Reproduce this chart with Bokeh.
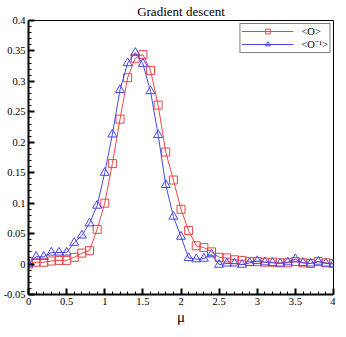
from bokeh.plotting import figure
from bokeh.models import Range1d, FixedTicker
from bokeh.embed import file_html
from bokeh.resources import INLINE

mu = [0.0, 0.1, 0.2, 0.3, 0.4, 0.5, 0.6, 0.7, 0.8, 0.9,
      1.0, 1.1, 1.2, 1.3, 1.4, 1.5, 1.6, 1.7, 1.8, 1.9,
      2.0, 2.1, 2.2, 2.3, 2.4, 2.5, 2.6, 2.7, 2.8, 2.9,
      3.0, 3.1, 3.2, 3.3, 3.4, 3.5, 3.6, 3.7, 3.8, 3.9, 4.0]

o_mean = [0.000, 0.003, 0.003, 0.005, 0.006, 0.006, 0.011, 0.018, 0.022, 0.057,
          0.100, 0.165, 0.238, 0.306, 0.338, 0.344, 0.318, 0.261, 0.184, 0.138,
          0.090, 0.055, 0.030, 0.027, 0.020, 0.011, 0.010, 0.007, 0.006, 0.004,
          0.004, 0.003, 0.003, 0.002, 0.002, 0.004, 0.002, 0.001, 0.004, 0.002, 0.001]

o_inv = [0.000, 0.012, 0.012, 0.019, 0.019, 0.019, 0.035, 0.047, 0.067, 0.096,
         0.150, 0.213, 0.286, 0.330, 0.347, 0.329, 0.284, 0.212, 0.130, 0.078,
         0.045, 0.010, 0.008, 0.009, 0.016, -0.001, 0.001, 0.001, -0.001, 0.002,
         0.005, 0.003, 0.002, 0.001, 0.003, 0.008, 0.002, 0.001, 0.004, 0.001, 0.000]

x_ticks = [0, 0.5, 1, 1.5, 2, 2.5, 3, 3.5, 4]
x_tick_labels = ["0", "0.5", "1", "1.5", "2", "2.5", "3", "3.5", "4"]
x_minor = [0.1 * i for i in range(41)]
y_ticks = [-0.05, 0, 0.05, 0.1, 0.15, 0.2, 0.25, 0.3, 0.35, 0.4]
y_tick_labels = ["-0.05", "0", "0.05", "0.1", "0.15", "0.2", "0.25", "0.3", "0.35", "0.4"]
y_minor = [-0.05 + 0.01 * i for i in range(46)]

FONT = "Liberation Serif"
RED = "#e64848"
BLUE = "#4848e6"

p = figure(frame_width=305, frame_height=274, x_range=Range1d(0, 4), y_range=Range1d(-0.05, 0.4),
           output_backend="svg", toolbar_location=None,
           min_border_left=24, min_border_right=2, min_border_top=18, min_border_bottom=0)

p.title.text = "Gradient descent"
p.title.align = "center"
p.title.text_font = FONT
p.title.text_font_size = "13px"
p.title.text_font_style = "normal"
p.title.text_color = "black"
p.title.offset = 0
p.title.standoff = 3

p.outline_line_color = "black"
p.outline_line_width = 1
p.grid.visible = False

for ax in (p.xaxis[0], p.yaxis[0]):
    ax.axis_line_width = 2
    ax.axis_line_color = "black"
    ax.major_tick_in = 6
    ax.major_tick_out = 0
    ax.minor_tick_in = 3
    ax.minor_tick_out = 0
    ax.major_tick_line_width = 2
    ax.minor_tick_line_width = 1
    ax.major_tick_line_color = "black"
    ax.minor_tick_line_color = "black"
    ax.major_label_text_font = FONT
    ax.major_label_text_font_size = "10.5px"
    ax.major_label_text_color = "black"
    ax.major_label_standoff = 3

p.xaxis.ticker = FixedTicker(ticks=x_ticks, minor_ticks=x_minor)
p.xaxis.major_label_overrides = dict(zip(x_ticks, x_tick_labels))
p.yaxis.ticker = FixedTicker(ticks=y_ticks, minor_ticks=y_minor)
p.yaxis.major_label_overrides = dict(zip(y_ticks, y_tick_labels))

p.xaxis.axis_label = "μ"
p.xaxis.axis_label_text_font = FONT
p.xaxis.axis_label_text_font_size = "15px"
p.xaxis.axis_label_text_font_style = "normal"
p.xaxis.axis_label_text_color = "black"
p.xaxis.axis_label_standoff = 1

p.line(mu, o_mean, line_color=RED, line_width=1, legend_label="<O>")
p.scatter(mu, o_mean, marker="square", size=8, line_color=RED, fill_color=None,
          line_width=1, legend_label="<O>")
p.line(mu, o_inv, line_color=BLUE, line_width=1, legend_label="<O⁻¹>")
p.scatter(mu, o_inv, marker="triangle", size=9, line_color=BLUE, fill_color=None,
          line_width=1, legend_label="<O⁻¹>")

lg = p.legend[0]
lg.location = "top_right"
lg.border_line_color = "black"
lg.border_line_width = 1
lg.background_fill_color = "white"
lg.background_fill_alpha = 1
lg.label_text_font = FONT
lg.label_text_font_size = "10.5px"
lg.label_text_color = "black"
lg.label_height = 12
lg.glyph_height = 12
lg.glyph_width = 52
lg.label_standoff = 8
lg.spacing = 0
lg.padding = 1
lg.margin = 3

open("out.html", "w").write(file_html(p, INLINE))
